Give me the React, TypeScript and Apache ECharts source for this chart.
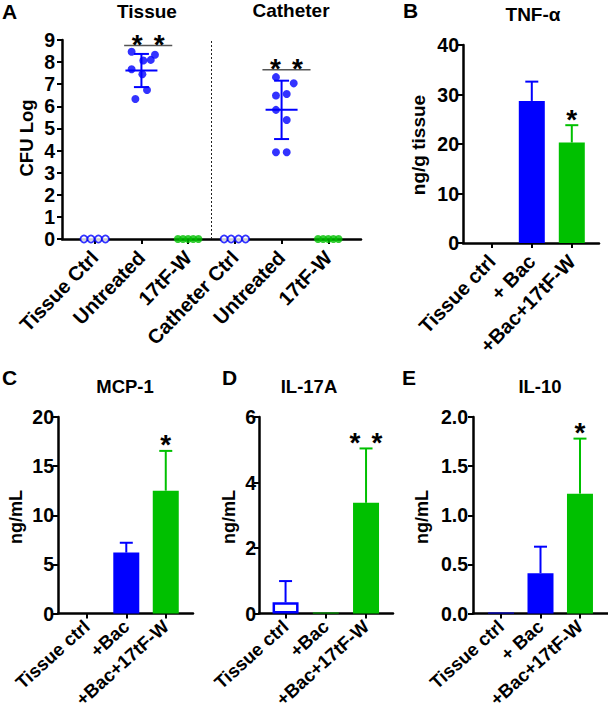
import React, { useEffect, useRef } from "react";
import * as echarts from "echarts";

const FONT = "'Liberation Sans', Arial, Helvetica, sans-serif";
const BLUE = "#0000FF";
const GREEN = "#00C000";

// ---------------- Panel A (CFU Log) ----------------
const aCategories = ["Tissue Ctrl", "Untreated", "17tF-W", "Catheter Ctrl", "Untreated", "17tF-W"];
const tissueCtrlValues = [0, 0, 0, 0];
const tissueUntreatedValues = [8.47, 8.07, 8.1, 8.33, 7.68, 7.45, 6.74, 6.33];
const tissueTreatedValues = [0, 0, 0, 0, 0];
const catheterCtrlValues = [0, 0, 0, 0];
const catheterUntreatedValues = [7.32, 7.04, 6.56, 6.49, 5.84, 5.38, 3.92, 3.92];
const catheterTreatedValues = [0, 0, 0, 0, 0];
// horizontal jitter of the dots (in category units)
const tissueUntreatedJitter = [-0.21, 0.04, 0.2, 0.29, -0.21, 0.02, 0.12, -0.13];
const catheterUntreatedJitter = [-0.12, 0.26, 0.11, -0.12, -0.12, 0.11, -0.12, 0.11];
const ctrlJitter = [-0.23, -0.08, 0.08, 0.23];
const treatedJitter = [-0.22, -0.11, 0, 0.11, 0.22];
const untreatedMeans = [7.62, 5.84];
const untreatedSD = [0.75, 1.32];
const aSigFrom = [0.63, 3.59];
const aSigTo = [1.66, 4.62];
const aSigY = [8.75, 7.65];

// ---------------- Panel B (TNF-α) ----------------
const bCategories = ["Tissue ctrl", "+ Bac", "+Bac+17tF-W"];
const bMeans = [0, 28.7, 20.3];
const bErrors = [0, 3.9, 3.5];
const bStars = [0, 0, 1];

// ---------------- Panel C (MCP-1) ----------------
const cCategories = ["Tissue ctrl", "+Bac", "+Bac+17tF-W"];
const cMeans = [0, 6.2, 12.5];
const cErrors = [0, 1.0, 4.05];
const cStars = [0, 0, 1];

// ---------------- Panel D (IL-17A) ----------------
const dCategories = ["Tissue ctrl", "+Bac", "+Bac+17tF-W"];
const dMeans = [0.34, 0.03, 3.38];
const dErrors = [0.65, 0, 1.66];
const dStars = [0, 0, 2];

// ---------------- Panel E (IL-10) ----------------
const eCategories = ["Tissue ctrl", "+ Bac", "+Bac+17tF-W"];
const eMeans = [0.01, 0.41, 1.22];
const eErrors = [0, 0.27, 0.56];
const eStars = [0, 0, 1];

const STAR_SIZE = 28;

function starTexts(cx: number, cy: number, n: number) {
  const out: any[] = [];
  for (let k = 0; k < n; k++) {
    const dx = (k - (n - 1) / 2) * 22;
    out.push({
      type: "text",
      x: cx + dx,
      y: cy,
      style: {
        text: "*",
        fontFamily: FONT,
        fontWeight: "bold",
        fontSize: STAR_SIZE,
        fill: "#000",
        align: "center",
        verticalAlign: "middle",
      },
    });
  }
  return out;
}

const axisLineStyle = { show: true, onZero: false, lineStyle: { color: "#000", width: 2.5 } };
const axisTickStyle = { show: true, length: 5, lineStyle: { color: "#000", width: 2 } };

function xAxisFor(
  idx: number,
  cats: string[],
  min: number,
  max: number,
  fontSize: number,
  rotate: number,
  margin: number
) {
  const vals = cats.map((_, i) => i);
  return {
    type: "value",
    gridIndex: idx,
    min,
    max,
    axisLine: axisLineStyle,
    axisTick: { ...axisTickStyle, customValues: vals },
    splitLine: { show: false },
    axisLabel: {
      customValues: vals,
      formatter: (v: number) => cats[Math.round(v)] ?? "",
      rotate,
      margin,
      color: "#000",
      fontFamily: FONT,
      fontWeight: "bold",
      fontSize,
    },
  };
}

function yAxisFor(idx: number, max: number, interval: number, margin: number, decimals = 0) {
  return {
    type: "value",
    gridIndex: idx,
    min: 0,
    max,
    interval,
    axisLine: axisLineStyle,
    axisTick: axisTickStyle,
    splitLine: { show: false },
    axisLabel: {
      margin,
      color: "#000",
      fontFamily: FONT,
      fontWeight: "bold",
      fontSize: 19.5,
      formatter: (v: number) => v.toFixed(decimals),
    },
  };
}

type BarKind = "filled" | "open";

function barPanelSeries(
  idx: number,
  means: number[],
  errors: number[],
  stars: number[],
  colors: string[],
  kinds: BarKind[]
) {
  const bar = {
    type: "bar",
    xAxisIndex: idx,
    yAxisIndex: idx,
    barWidth: 26,
    silent: true,
    z: 2,
    data: means.map((v, i) => ({
      value: [i, v],
      itemStyle:
        kinds[i] === "open"
          ? { color: "#fff", borderColor: colors[i], borderWidth: 2.5 }
          : { color: colors[i] },
    })),
  };
  const err = {
    type: "custom",
    xAxisIndex: idx,
    yAxisIndex: idx,
    silent: true,
    clip: false,
    z: 5,
    data: means.map((m, i) => [i, m, errors[i]]),
    renderItem: (params: any, api: any) => {
      const i = params.dataIndex;
      const x = api.value(0);
      const m = api.value(1);
      const e = api.value(2);
      const base = api.coord([x, m]);
      const top = api.coord([x, m + e]);
      const col = colors[i];
      const children: any[] = [];
      if (e > 0) {
        children.push({
          type: "line",
          shape: { x1: base[0], y1: base[1], x2: top[0], y2: top[1] },
          style: { stroke: col, lineWidth: 2 },
        });
        children.push({
          type: "line",
          shape: { x1: top[0] - 6.5, y1: top[1], x2: top[0] + 6.5, y2: top[1] },
          style: { stroke: col, lineWidth: 2 },
        });
      }
      if (stars[i] > 0) children.push(...starTexts(top[0], top[1] - 6, stars[i]));
      return { type: "group", children };
    },
  };
  return [bar, err];
}

function buildOption() {
  const grids = [
    { left: 62, top: 40, width: 299, height: 199 },
    { left: 463, top: 45, width: 136, height: 198 },
    { left: 58, top: 417, width: 135, height: 196.5 },
    { left: 259, top: 417, width: 134, height: 196.5 },
    { left: 473, top: 417, width: 135, height: 196.5 },
  ].map((g) => ({ ...g, containLabel: false, outerBoundsMode: "none" }));

  const xAxes = [
    xAxisFor(0, aCategories, -0.7, 5.7, 20, 46, 15),
    xAxisFor(1, bCategories, -0.72, 2.68, 20, 46, 15),
    xAxisFor(2, cCategories, -0.73, 2.69, 18.5, 42, 10),
    xAxisFor(3, dCategories, -0.66, 2.67, 18.5, 42, 10),
    xAxisFor(4, eCategories, -0.71, 2.71, 18.5, 42, 10),
  ];
  const yAxes = [
    yAxisFor(0, 9, 1, 7),
    yAxisFor(1, 40, 10, 4),
    yAxisFor(2, 20, 5, 4),
    yAxisFor(3, 6, 2, 3),
    yAxisFor(4, 2, 0.5, 5, 1),
  ];

  const dots = (vals: number[], center: number, jitter: number[]) =>
    vals.map((v, i) => [center + jitter[i], v]);

  const seriesA: any[] = [
    {
      type: "scatter",
      xAxisIndex: 0,
      yAxisIndex: 0,
      clip: false,
      silent: true,
      symbol: "circle",
      symbolSize: 8,
      itemStyle: { color: BLUE },
      data: [
        ...dots(tissueUntreatedValues, 1, tissueUntreatedJitter),
        ...dots(catheterUntreatedValues, 4, catheterUntreatedJitter),
      ],
      markLine: {
        silent: true,
        symbol: "none",
        label: { show: false },
        lineStyle: { color: "#222", width: 1, type: [2, 2] },
        data: [{ xAxis: 2.5 }],
      },
    },
    {
      type: "scatter",
      xAxisIndex: 0,
      yAxisIndex: 0,
      clip: false,
      silent: true,
      symbol: "circle",
      symbolSize: 7,
      z: 3,
      itemStyle: { color: "#fff", borderColor: BLUE, borderWidth: 1.8 },
      data: [...dots(tissueCtrlValues, 0, ctrlJitter), ...dots(catheterCtrlValues, 3, ctrlJitter)],
    },
    {
      type: "scatter",
      xAxisIndex: 0,
      yAxisIndex: 0,
      clip: false,
      silent: true,
      symbol: "circle",
      symbolSize: 8,
      z: 3,
      itemStyle: { color: GREEN },
      data: [...dots(tissueTreatedValues, 2, treatedJitter), ...dots(catheterTreatedValues, 5, treatedJitter)],
    },
    {
      type: "custom",
      xAxisIndex: 0,
      yAxisIndex: 0,
      clip: false,
      silent: true,
      z: 4,
      data: untreatedMeans.map((m, i) => [i === 0 ? 1 : 4, m, untreatedSD[i]]),
      renderItem: (params: any, api: any) => {
        const x = api.value(0);
        const m = api.value(1);
        const sd = api.value(2);
        const pm = api.coord([x, m]);
        const pu = api.coord([x, m + sd]);
        const pl = api.coord([x, m - sd]);
        const st = { stroke: BLUE, lineWidth: 2 };
        return {
          type: "group",
          children: [
            { type: "line", shape: { x1: pm[0] - 16, y1: pm[1], x2: pm[0] + 16, y2: pm[1] }, style: st },
            { type: "line", shape: { x1: pu[0], y1: pu[1], x2: pl[0], y2: pl[1] }, style: st },
            { type: "line", shape: { x1: pu[0] - 7.5, y1: pu[1], x2: pu[0] + 7.5, y2: pu[1] }, style: st },
            { type: "line", shape: { x1: pl[0] - 7.5, y1: pl[1], x2: pl[0] + 7.5, y2: pl[1] }, style: st },
          ],
        };
      },
    },
    {
      type: "custom",
      xAxisIndex: 0,
      yAxisIndex: 0,
      clip: false,
      silent: true,
      z: 4,
      data: aSigFrom.map((f, i) => [f, aSigTo[i], aSigY[i]]),
      renderItem: (params: any, api: any) => {
        const p1 = api.coord([api.value(0), api.value(2)]);
        const p2 = api.coord([api.value(1), api.value(2)]);
        return {
          type: "group",
          children: [
            {
              type: "line",
              shape: { x1: p1[0], y1: p1[1], x2: p2[0], y2: p2[1] },
              style: { stroke: "#555", lineWidth: 1.5 },
            },
            ...starTexts((p1[0] + p2[0]) / 2, p1[1] - 1, 2),
          ],
        };
      },
    },
  ];

  const series = [
    ...seriesA,
    ...barPanelSeries(1, bMeans, bErrors, bStars, [BLUE, BLUE, GREEN], ["filled", "filled", "filled"]),
    ...barPanelSeries(2, cMeans, cErrors, cStars, [BLUE, BLUE, GREEN], ["filled", "filled", "filled"]),
    ...barPanelSeries(3, dMeans, dErrors, dStars, [BLUE, GREEN, GREEN], ["open", "filled", "filled"]),
    ...barPanelSeries(4, eMeans, eErrors, eStars, [BLUE, BLUE, GREEN], ["filled", "filled", "filled"]),
  ];

  const txt = (
    text: string,
    x: number,
    y: number,
    size: number,
    align: string = "center",
    rotation = 0
  ) => ({
    type: "text",
    x,
    y,
    rotation,
    silent: true,
    style: {
      text,
      fontFamily: FONT,
      fontWeight: "bold",
      fontSize: size,
      fill: "#000",
      align,
      verticalAlign: "middle",
    },
  });

  const graphic = [
    txt("A", 2, 11.5, 21, "left"),
    txt("B", 403, 10.5, 21, "left"),
    txt("C", 2, 377.5, 21, "left"),
    txt("D", 222, 377.5, 21, "left"),
    txt("E", 402, 377.5, 21, "left"),
    txt("Tissue", 147, 11, 19),
    txt("Catheter", 291, 10, 19),
    txt("TNF-α", 533, 14, 19),
    txt("MCP-1", 125, 386.5, 18.5),
    txt("IL-17A", 309, 386.5, 18.5),
    txt("IL-10", 540, 386.5, 18.5),
    txt("CFU Log", 26, 138, 18.5, "center", Math.PI / 2),
    txt("ng/g tissue", 418, 145, 19, "center", Math.PI / 2),
    txt("ng/mL", 16, 517, 18, "center", Math.PI / 2),
    txt("ng/mL", 229, 517, 18, "center", Math.PI / 2),
    txt("ng/mL", 422, 517, 18, "center", Math.PI / 2),
  ];

  return {
    animation: false,
    backgroundColor: "#fff",
    grid: grids,
    xAxis: xAxes,
    yAxis: yAxes,
    series,
    graphic,
  };
}

export default function App() {
  const ref = useRef<HTMLDivElement>(null);
  useEffect(() => {
    if (!ref.current) return;
    const chart = echarts.init(ref.current, null, { renderer: "svg" });
    chart.setOption(buildOption() as any);
    return () => chart.dispose();
  }, []);
  return (
    <div
      ref={ref}
      style={{ position: "fixed", left: 0, top: 0, width: 608, height: 719, background: "#fff" }}
    />
  );
}
